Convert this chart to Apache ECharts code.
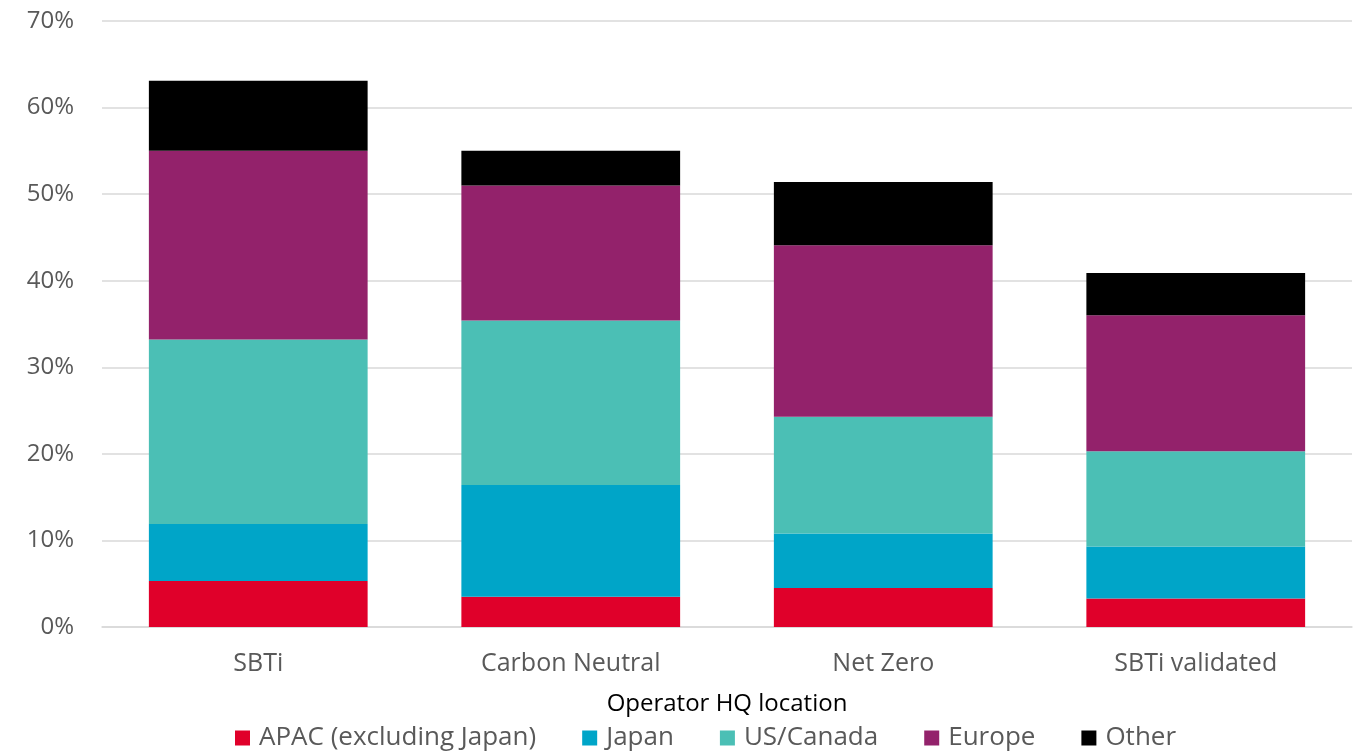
<!DOCTYPE html>
<html><head><meta charset="utf-8">
<script src="https://cdn.jsdelivr.net/npm/echarts@6/dist/echarts.min.js"></script>
<style>html,body{margin:0;padding:0;background:#fff}#c{width:1363px;height:751px}</style>
</head><body><div id="c"></div>
<script>
const categories = ['SBTi', 'Carbon Neutral', 'Net Zero', 'SBTi validated'];
const seriesNames = ['APAC (excluding Japan)', 'Japan', 'US/Canada', 'Europe', 'Other'];
const apac = [5.3, 3.5, 4.5, 3.3];
const japan = [6.6, 12.9, 6.3, 6.0];
const usCanada = [21.3, 19.0, 13.5, 11.0];
const europe = [21.8, 15.6, 19.8, 15.7];
const other = [8.1, 4.0, 7.3, 4.9];
const colors = ['#E0002A', '#00A5C8', '#4BBFB5', '#93226B', '#000000'];
const values = [apac, japan, usCanada, europe, other];

const chart = echarts.init(document.getElementById('c'));
chart.setOption({
  animation: false,
  textStyle: { fontFamily: '"Open Sans", "Liberation Sans", Arial, sans-serif' },
  grid: { left: 102, right: 11, top: 21, bottom: 124 },
  legend: {
    top: 720, left: 230,
    itemWidth: 15, itemHeight: 15, itemGap: 46,
    icon: 'rect',
    textStyle: { fontSize: 26, color: '#595959', padding: [0, 0, 0, 4] },
    data: seriesNames
  },
  xAxis: {
    type: 'category', data: categories,
    name: 'Operator HQ location', nameLocation: 'middle', nameGap: 65,
    nameTextStyle: { fontSize: 24, color: '#000' },
    axisLine: { lineStyle: { color: '#d9d9d9', width: 1.5 } },
    axisTick: { show: false },
    axisLabel: { fontSize: 25, color: '#595959', margin: 24 }
  },
  yAxis: {
    type: 'value', min: 0, max: 70, interval: 10,
    axisLabel: { fontSize: 24, color: '#595959', formatter: '{value}%', margin: 28 },
    splitLine: { lineStyle: { color: '#d9d9d9', width: 1.5 } },
    axisLine: { show: false }, axisTick: { show: false }
  },
  series: values.map((v, i) => ({
    name: seriesNames[i], type: 'bar', stack: 'total',
    data: v, barWidth: '70%',
    itemStyle: { color: colors[i] }
  }))
});
</script></body></html>
